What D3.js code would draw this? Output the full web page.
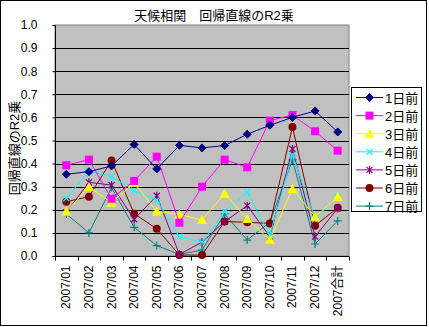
<!DOCTYPE html>
<html><head><meta charset="utf-8">
<script src="https://cdn.jsdelivr.net/npm/d3@7"></script>
<style>body{margin:0;background:#fff}svg{display:block}text{font-family:"Liberation Sans","Noto Sans CJK JP",sans-serif}</style>
</head><body>
<script>
const categories = ["2007/01","2007/02","2007/03","2007/04","2007/05","2007/06","2007/07","2007/08","2007/09","2007/10","2007/11","2007/12","2007合計"];
const seriesNames = ["1日前","2日前","3日前","4日前","5日前","6日前","7日前"];
const s1 = [0.354,0.365,0.39,0.483,0.377,0.479,0.468,0.478,0.527,0.566,0.60,0.628,0.537];
const s2 = [0.393,0.417,0.248,0.325,0.43,0.144,0.30,0.417,0.384,0.586,0.61,0.54,0.456];
const s3 = [0.192,0.299,0.231,0.317,0.193,0.18,0.156,0.27,0.16,0.07,0.29,0.17,0.255];
const s4 = [0.25,0.368,0.343,0.283,0.242,0.084,0.06,0.192,0.277,0.091,0.437,0.16,0.257];
const s5 = [0.189,0.319,0.307,0.159,0.261,0.007,0.06,0.149,0.218,0.084,0.463,0.084,0.206];
const s6 = [0.235,0.257,0.413,0.183,0.118,0.004,0.004,0.149,0.146,0.141,0.558,0.131,0.209];
const s7 = [0.182,0.1,0.296,0.124,0.045,0.007,0.026,0.182,0.069,0.146,0.416,0.052,0.152];
const yTicks = [0,0.1,0.2,0.3,0.4,0.5,0.6,0.7,0.8,0.9,1.0];
const colors = ["#000080","#FF00FF","#FFFF00","#00FFFF","#800080","#800000","#008080"];
const markers = ["diamond","square","triangle","x","star","circle","plus"];
const allSeries = [s1,s2,s3,s4,s5,s6,s7];

const W=429,H=327;
const svg=d3.select("body").append("svg").attr("width",W).attr("height",H);
svg.append("rect").attr("x",0.5).attr("y",0.5).attr("width",426).attr("height",325).attr("fill","#fff").attr("stroke","#000");

const L=55,R=349,T=25,B=256;
const x=d3.scaleBand().domain(categories).range([L,R]);
const y=d3.scaleLinear().domain([0,1]).range([B,T]);

svg.append("rect").attr("x",L).attr("y",T).attr("width",R-L).attr("height",B-T).attr("fill","#C0C0C0").attr("stroke","#808080");
svg.append("g").selectAll("line").data(yTicks.filter(d=>d>0&&d<1)).join("line")
  .attr("x1",L).attr("x2",R).attr("y1",d=>Math.round(y(d))+0.5).attr("y2",d=>Math.round(y(d))+0.5).attr("stroke","#000");

const ya=svg.append("g").attr("transform",`translate(${L+0.5},0)`).call(d3.axisLeft(y).tickValues(yTicks).tickFormat(d3.format(".1f")).tickSize(3).tickPadding(15));
ya.select(".domain").attr("stroke","#000").attr("d",`M-3,${T+0.5}H0V${B+0.5}H-3`);
ya.selectAll("text").attr("font-size",12).attr("fill","#000");
const xa=svg.append("g").attr("transform",`translate(0,${B+0.5})`);
xa.append("line").attr("x1",L).attr("x2",R).attr("stroke","#000");
xa.selectAll("line.t").data(d3.range(categories.length+1)).join("line").attr("class","t")
  .attr("x1",i=>Math.round(L+i*x.step())+0.5).attr("x2",i=>Math.round(L+i*x.step())+0.5).attr("y1",0).attr("y2",4).attr("stroke","#000");
xa.selectAll("text").data(categories).join("text")
  .attr("transform",d=>`translate(${x(d)+x.bandwidth()/2+4},9) rotate(-90)`)
  .attr("text-anchor","end").attr("font-size",12).text(d=>d);

svg.append("text").attr("x",214).attr("y",20).attr("text-anchor","middle").attr("font-size",13).text("天候相関　回帰直線のR2乗");
svg.append("text").attr("transform",`translate(19,148) rotate(-90)`).attr("text-anchor","middle").attr("font-size",13).text("回帰直線のR2乗");

function drawMarker(g,type,color,cx,cy){
  if(type==="diamond") g.append("path").attr("d",`M${cx},${cy-4}L${cx+4},${cy}L${cx},${cy+4}L${cx-4},${cy}Z`).attr("fill",color).attr("stroke",color);
  else if(type==="square") g.append("rect").attr("x",cx-4).attr("y",cy-4).attr("width",8).attr("height",8).attr("fill",color);
  else if(type==="triangle") g.append("path").attr("d",`M${cx},${cy-5}L${cx+5},${cy+4}L${cx-5},${cy+4}Z`).attr("fill",color);
  else if(type==="circle") g.append("circle").attr("cx",cx).attr("cy",cy).attr("r",4).attr("fill",color);
  else if(type==="x") g.append("path").attr("d",`M${cx-3},${cy-3}L${cx+3},${cy+3}M${cx-3},${cy+3}L${cx+3},${cy-3}`).attr("stroke",color).attr("stroke-width",1.2);
  else if(type==="star") g.append("path").attr("d",`M${cx-3},${cy-3}L${cx+3},${cy+3}M${cx-3},${cy+3}L${cx+3},${cy-3}M${cx},${cy-4}V${cy+4}`).attr("stroke",color).attr("stroke-width",1.2);
  else if(type==="plus") g.append("path").attr("d",`M${cx-4},${cy}H${cx+4}M${cx},${cy-4}V${cy+4}`).attr("stroke",color).attr("stroke-width",1.2);
}
const line=d3.line().x((d,i)=>x(categories[i])+x.bandwidth()/2).y(d=>y(d));
for(let k=allSeries.length-1;k>=0;k--){
  const g=svg.append("g");
  g.append("path").datum(allSeries[k]).attr("d",line).attr("fill","none").attr("stroke",colors[k]).attr("stroke-width",1);
  allSeries[k].forEach((v,i)=>drawMarker(g,markers[k],colors[k],x(categories[i])+x.bandwidth()/2,y(v)));
}

const lg=svg.append("g");
lg.append("rect").attr("x",351.5).attr("y",87.5).attr("width",70).attr("height",124).attr("fill","#fff").attr("stroke","#000");
seriesNames.forEach((n,i)=>{
  const cy=97.5+i*18.1;
  lg.append("line").attr("x1",356).attr("x2",383).attr("y1",cy).attr("y2",cy).attr("stroke",colors[i]);
  drawMarker(lg,markers[i],colors[i],369.5,cy);
  lg.append("text").attr("x",385).attr("y",cy+5).attr("font-size",13).text(n);
});
</script>
</body></html>
